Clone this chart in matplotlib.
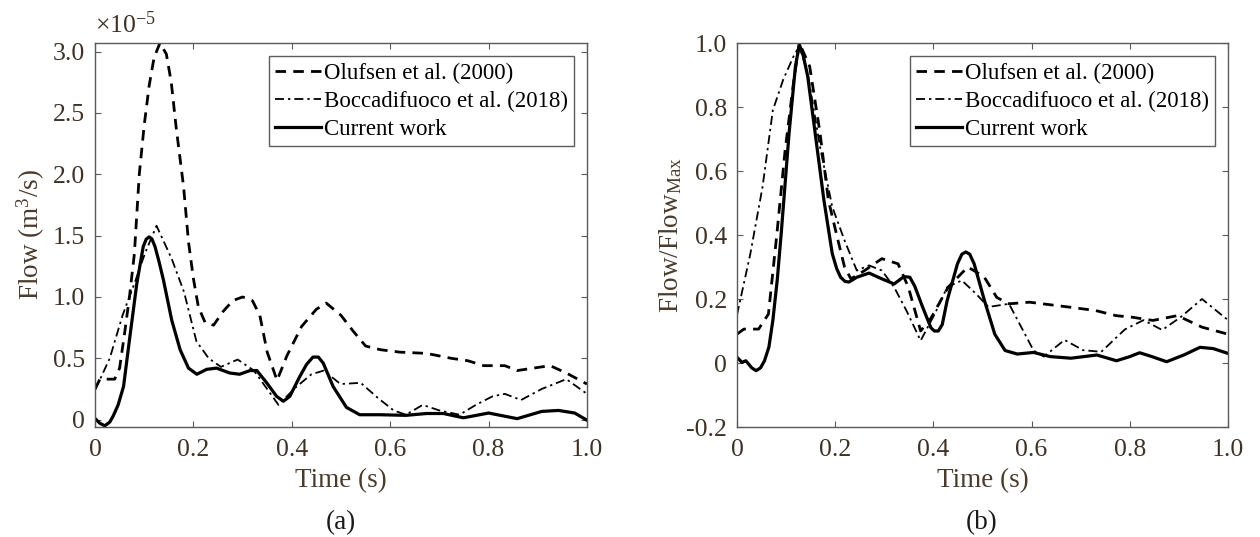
import matplotlib
matplotlib.use("Agg")
import matplotlib.pyplot as plt

plt.rcParams['font.family'] = ['Liberation Serif', 'DejaVu Serif']
plt.rcParams['mathtext.fontset'] = 'custom'
plt.rcParams['mathtext.rm'] = 'Liberation Serif'
plt.rcParams['mathtext.it'] = 'Liberation Serif:italic'

# ---- panel (a): flow, units of 1e-5 m^3/s ----
t_olufsen_a = [0.0, 0.01, 0.04, 0.05, 0.06, 0.07, 0.08, 0.09, 0.10, 0.11, 0.12, 0.132, 0.145,
               0.155, 0.165, 0.18, 0.19, 0.20, 0.21, 0.224, 0.241, 0.26, 0.28, 0.30, 0.32, 0.335,
               0.35, 0.37, 0.39, 0.42, 0.45, 0.47, 0.50, 0.525, 0.55, 0.58, 0.62, 0.674, 0.724,
               0.758, 0.79, 0.833, 0.858, 0.891, 0.925, 0.958, 1.0]
q_olufsen_a = [0.25, 0.33, 0.33, 0.42, 0.70, 1.0, 1.35, 2.0, 2.4, 2.72, 2.95, 3.07, 2.98,
               2.75, 2.38, 1.9, 1.45, 1.15, 0.92, 0.79, 0.77, 0.88, 0.97, 1.0, 0.97, 0.85,
               0.55, 0.32, 0.52, 0.76, 0.90, 0.95, 0.85, 0.72, 0.60, 0.57, 0.55, 0.54, 0.50,
               0.48, 0.44, 0.44, 0.40, 0.42, 0.44, 0.38, 0.29]

t_bocca_a = [0.0, 0.03, 0.056, 0.081, 0.102, 0.125, 0.14, 0.156, 0.181, 0.206, 0.231, 0.256,
             0.29, 0.323, 0.348, 0.373, 0.407, 0.44, 0.465, 0.499, 0.54, 0.574, 0.607, 0.632,
             0.666, 0.70, 0.741, 0.774, 0.808, 0.833, 0.866, 0.908, 0.958, 1.0]
q_bocca_a = [0.24, 0.50, 0.85, 1.12, 1.36, 1.58, 1.45, 1.31, 1.04, 0.64, 0.50, 0.43,
             0.49, 0.40, 0.26, 0.12, 0.26, 0.37, 0.40, 0.29, 0.30, 0.18, 0.075, 0.04,
             0.12, 0.075, 0.04, 0.12, 0.19, 0.21, 0.16, 0.25, 0.33, 0.21]

t_current_a = [0.0, 0.01, 0.02, 0.03, 0.037, 0.047, 0.058, 0.071, 0.085, 0.098, 0.104, 0.11,
               0.116, 0.122, 0.13, 0.139, 0.156, 0.173, 0.19, 0.207, 0.227, 0.247, 0.274,
               0.294, 0.315, 0.329, 0.349, 0.369, 0.383, 0.396, 0.416, 0.43, 0.443, 0.454,
               0.464, 0.484, 0.511, 0.538, 0.579, 0.632, 0.674, 0.708, 0.749, 0.80, 0.858,
               0.908, 0.942, 0.975, 1.0]
q_current_a = [0.01, -0.03, -0.05, -0.02, 0.03, 0.12, 0.27, 0.68, 1.11, 1.41, 1.47, 1.49,
               1.47, 1.41, 1.29, 1.14, 0.81, 0.57, 0.42, 0.37, 0.41, 0.42, 0.38,
               0.37, 0.40, 0.40, 0.30, 0.19, 0.15, 0.19, 0.35, 0.45, 0.51, 0.51,
               0.46, 0.27, 0.10, 0.04, 0.04, 0.035, 0.05, 0.05, 0.015, 0.054, 0.008,
               0.067, 0.075, 0.054, -0.005]

# ---- panel (b): normalised flow ----
t_olufsen_b = [0.0, 0.014, 0.044, 0.064, 0.081, 0.098, 0.115, 0.127, 0.148, 0.169, 0.186,
               0.203, 0.219, 0.232, 0.261, 0.295, 0.328, 0.349, 0.374, 0.395, 0.43, 0.47,
               0.503, 0.529, 0.554, 0.596, 0.68, 0.73, 0.772, 0.805, 0.847, 0.897, 0.947, 1.0]
q_olufsen_b = [0.09, 0.106, 0.106, 0.153, 0.40, 0.665, 0.875, 1.0, 0.927, 0.72, 0.51,
               0.40, 0.30, 0.263, 0.29, 0.326, 0.31, 0.237, 0.10, 0.14, 0.237, 0.30,
               0.27, 0.205, 0.185, 0.19, 0.174, 0.164, 0.148, 0.143, 0.133, 0.148, 0.112, 0.09]

t_bocca_b = [0.0, 0.027, 0.052, 0.073, 0.094, 0.115, 0.127, 0.144, 0.169, 0.194, 0.219,
             0.244, 0.269, 0.295, 0.32, 0.345, 0.374, 0.403, 0.428, 0.458, 0.487, 0.512,
             0.554, 0.579, 0.604, 0.625, 0.667, 0.705, 0.742, 0.79, 0.828, 0.866, 0.905,
             0.947, 1.0]
q_bocca_b = [0.15, 0.34, 0.55, 0.79, 0.885, 0.958, 0.99, 0.906, 0.676, 0.488, 0.383,
             0.289, 0.305, 0.289, 0.237, 0.164, 0.07, 0.154, 0.237, 0.258, 0.216, 0.175,
             0.185, 0.112, 0.039, 0.02, 0.072, 0.04, 0.035, 0.105, 0.134, 0.103, 0.145,
             0.20, 0.134]

t_current_b = [0.0, 0.010, 0.018, 0.030, 0.039, 0.048, 0.056, 0.065, 0.073, 0.082, 0.090,
               0.106, 0.119, 0.127, 0.135, 0.144, 0.161, 0.177, 0.194, 0.203, 0.211, 0.22,
               0.228, 0.244, 0.269, 0.295, 0.32, 0.34, 0.352, 0.362, 0.378, 0.395, 0.402,
               0.41, 0.418, 0.428, 0.449, 0.458, 0.466, 0.474, 0.483, 0.504, 0.525, 0.546,
               0.571, 0.604, 0.638, 0.68, 0.733, 0.773, 0.80, 0.82, 0.845, 0.875, 0.91,
               0.943, 0.97, 1.0]
q_current_b = [0.018, 0.002, 0.007, -0.015, -0.024, -0.015, 0.007, 0.05, 0.133, 0.26, 0.404,
               0.717, 0.927, 0.995, 0.96, 0.896, 0.697, 0.509, 0.342, 0.295, 0.268, 0.255,
               0.253, 0.268, 0.281, 0.263, 0.247, 0.27, 0.268, 0.24, 0.175, 0.11, 0.10,
               0.10, 0.12, 0.195, 0.31, 0.34, 0.347, 0.34, 0.31, 0.195, 0.09, 0.039,
               0.028, 0.033, 0.02, 0.015, 0.025, 0.007, 0.02, 0.032, 0.02, 0.004, 0.025,
               0.049, 0.045, 0.03]

labels = ['Olufsen et al. (2000)', 'Boccadifuoco et al. (2018)', 'Current work']
xticks = [0, 0.2, 0.4, 0.6, 0.8, 1.0]
xticklabels = ['0', '0.2', '0.4', '0.6', '0.8', '1.0']
yticks_a = [0, 0.5, 1.0, 1.5, 2.0, 2.5, 3.0]
yticklabels_a = ['0', '0.5', '1.0', '1.5', '2.0', '2.5', '3.0']
yticks_b = [-0.2, 0, 0.2, 0.4, 0.6, 0.8, 1.0]
yticklabels_b = ['-0.2', '0', '0.2', '0.4', '0.6', '0.8', '1.0']

TICK_COLOR = '#3c3226'
LABEL_COLOR = '#4a3c2c'
AX_COLOR = '#5a5a5a'

W, H = 1260, 537
fig = plt.figure(figsize=(W / 100, H / 100), dpi=100)
ax_a = fig.add_axes([95 / W, 1 - 427 / H, 492 / W, 384 / H])
ax_b = fig.add_axes([737 / W, 1 - 427 / H, 491 / W, 384 / H])


def draw(ax, curves):
    (t1, q1), (t2, q2), (t3, q3) = curves
    ax.plot(t1, q1, color='black', lw=2.0, dashes=(3.8, 2.6), label=labels[0])
    ax.plot(t2, q2, color='black', lw=1.3, dashes=(5.0, 2.2, 1.3, 2.2), label=labels[1])
    ax.plot(t3, q3, color='black', lw=2.3, label=labels[2], solid_joinstyle='round')
    ax.set_xlim(0, 1)
    ax.set_xticks(xticks)
    ax.set_xticklabels(xticklabels)
    for s in ax.spines.values():
        s.set_color(AX_COLOR)
        s.set_linewidth(1.0)
    ax.tick_params(direction='in', top=True, right=True, length=4, width=0.8,
                   color=AX_COLOR, labelcolor=TICK_COLOR, labelsize=18.5, pad=7)
    ax.tick_params(axis='x', pad=9)
    ax.set_xlabel('Time (s)', fontsize=19.5, color=LABEL_COLOR, labelpad=5)
    leg = ax.legend(loc='upper right', fontsize=16.5, frameon=True, fancybox=False,
                    handlelength=2.0, handletextpad=0.1, labelspacing=0.3,
                    borderpad=0.3, borderaxespad=0.55)
    leg.get_frame().set_edgecolor('#333333')
    leg.get_frame().set_linewidth(1.0)


draw(ax_a, [(t_olufsen_a, q_olufsen_a), (t_bocca_a, q_bocca_a), (t_current_a, q_current_a)])
ax_a.set_ylim(-0.06, 3.07)
ax_a.set_yticks(yticks_a)
ax_a.set_yticklabels(yticklabels_a)
ax_a.set_ylabel('Flow (m$^3$/s)', fontsize=19.5, color=LABEL_COLOR, labelpad=4)
ax_a.text(0.0, 1.012, r'$\times$10$^{-5}$', transform=ax_a.transAxes, fontsize=18.5,
          color=TICK_COLOR, ha='left', va='bottom')

draw(ax_b, [(t_olufsen_b, q_olufsen_b), (t_bocca_b, q_bocca_b), (t_current_b, q_current_b)])
ax_b.set_ylim(-0.2, 1.0)
ax_b.set_yticks(yticks_b)
ax_b.set_yticklabels(yticklabels_b)
ax_b.set_ylabel('Flow/Flow$_{\\mathrm{Max}}$', fontsize=19.5, color=LABEL_COLOR, labelpad=2)

fig.text(341 / W, 1 - 523 / H, '(a)', fontsize=19.5, color='#1a1a1a', ha='center', va='center')
fig.text(982 / W, 1 - 523 / H, '(b)', fontsize=19.5, color='#1a1a1a', ha='center', va='center')

fig.savefig('out.png', dpi=100)
